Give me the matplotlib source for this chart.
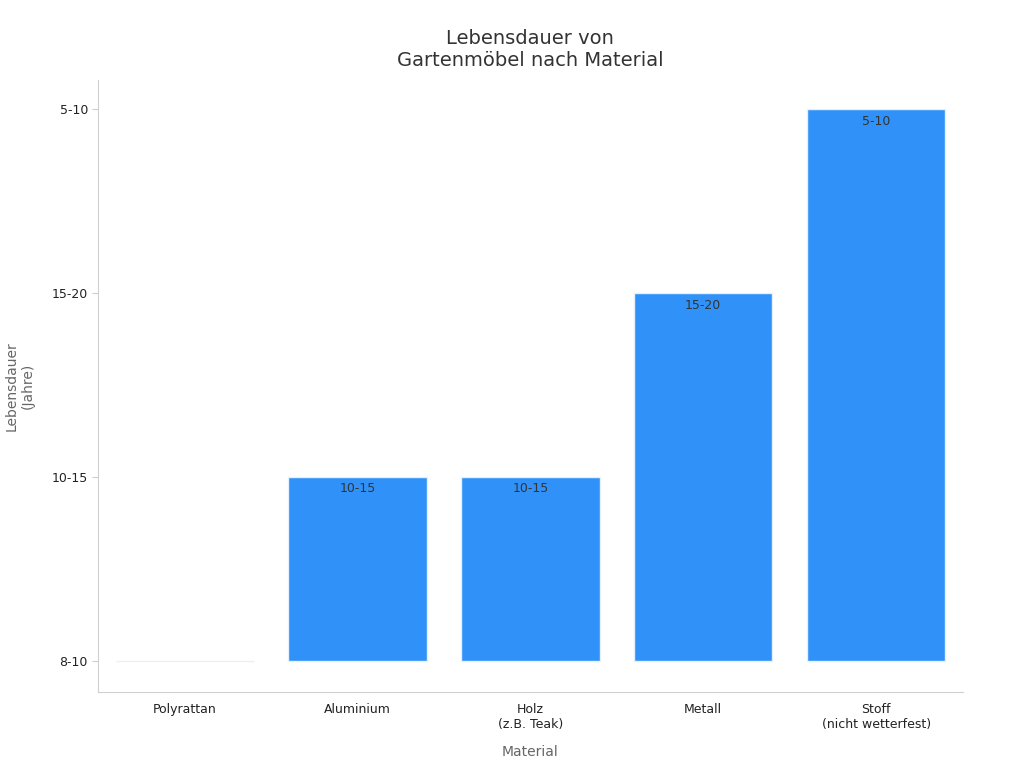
import matplotlib
matplotlib.use("Agg")
import matplotlib.pyplot as plt

# Data
materials = ["Polyrattan", "Aluminium", "Holz\n(z.B. Teak)", "Metall", "Stoff\n(nicht wetterfest)"]
y_levels = ["8-10", "10-15", "15-20", "5-10"]
values = ["8-10", "10-15", "10-15", "15-20", "5-10"]

heights = [y_levels.index(v) for v in values]

fig, ax = plt.subplots(figsize=(10.24, 7.68), dpi=100)
fig.subplots_adjust(left=0.096, right=0.94, top=0.896, bottom=0.099)

x = list(range(len(materials)))
bars = ax.bar(x, heights, width=0.8, color="#3092F8", edgecolor="#e6f0fb", linewidth=1)

for xi, h, lab in zip(x, heights, values):
    if h > 0:
        ax.text(xi, h - 0.03, lab, ha="center", va="top", fontsize=9, color="#333333")

ax.set_xlim(-0.5, 4.5)
ax.set_ylim(-0.17, 3.16)
ax.set_xticks(x)
ax.set_xticklabels(materials, fontsize=9, color="#222222")
ax.set_yticks(range(len(y_levels)))
ax.set_yticklabels(y_levels, fontsize=9, color="#222222")
ax.tick_params(axis="x", length=0, pad=8)
ax.tick_params(axis="y", length=4, color="#cccccc")

ax.set_xlabel("Material", fontsize=10, color="#666666", labelpad=10)
ax.set_ylabel("Lebensdauer\n(Jahre)", fontsize=10, color="#666666", labelpad=12)
ax.set_title("Lebensdauer von\nGartenmöbel nach Material", fontsize=14, color="#333333", pad=10)

for side in ["top", "right"]:
    ax.spines[side].set_visible(False)
for side in ["left", "bottom"]:
    ax.spines[side].set_color("#d0d0d0")

plt.savefig("out.png", dpi=100)
